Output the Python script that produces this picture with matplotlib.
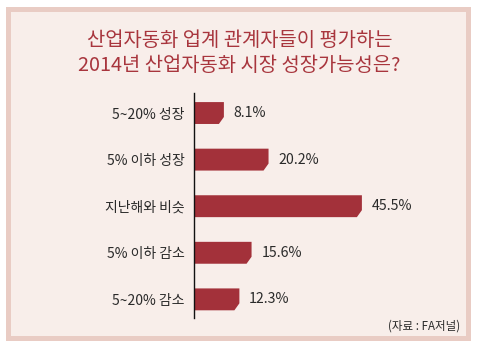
import matplotlib
matplotlib.use("Agg")
import matplotlib.pyplot as plt
from matplotlib.patches import Rectangle, Polygon

plt.rcParams['font.family'] = ['Noto Sans CJK KR', 'DejaVu Sans']
plt.rcParams['font.weight'] = 'light'

categories = ["5~20% 성장", "5% 이하 성장", "지난해와 비슷", "5% 이하 감소", "5~20% 감소"]
values = [8.1, 20.2, 45.5, 15.6, 12.3]
value_labels = ["8.1%", "20.2%", "45.5%", "15.6%", "12.3%"]
title = "산업자동화 업계 관계자들이 평가하는\n2014년 산업자동화 시장 성장가능성은?"
source = "(자료 : FA저널)"

W, H = 479, 349
BAR_COLOR = "#a3313a"
TEXT_COLOR = "#2a2a2a"
TITLE_COLOR = "#a8353d"

fig = plt.figure(figsize=(W / 100, H / 100), dpi=100)
fig.patch.set_facecolor("white")


def px_rect(x0, y0, x1, y1, color):
    # rectangle given in pixel coords measured from the top-left
    fig.patches.append(Rectangle((x0 / W, 1 - y1 / H), (x1 - x0) / W, (y1 - y0) / H,
                                 transform=fig.transFigure, facecolor=color,
                                 edgecolor="none", zorder=-10))


px_rect(6, 7, 471, 341, "#e9ccc4")
px_rect(11, 12, 466, 336, "#f8eeea")

fig.text(0.5, 1 - 53 / H, title, ha="center", va="center", fontsize=14.3,
         color=TITLE_COLOR, linespacing=1.3)

ax_left, ax_top, ax_bottom, ax_right = 194, 93, 318, 460
ax = fig.add_axes([ax_left / W, 1 - ax_bottom / H,
                   (ax_right - ax_left) / W, (ax_bottom - ax_top) / H])
ax.set_facecolor("none")
px_per_unit = 3.69
ax.set_xlim(0, (ax_right - ax_left) / px_per_unit)
ax.set_ylim(4.4, -0.43)
for s in ["top", "right", "bottom"]:
    ax.spines[s].set_visible(False)
ax.spines["left"].set_linewidth(1.0)
ax.spines["left"].set_color("#111111")
ax.set_xticks([])
ax.set_yticks(range(len(categories)))
ax.set_yticklabels(categories, fontsize=10, color=TEXT_COLOR)
ax.tick_params(axis="y", length=0, pad=7)

bar_h = 0.47
chamfer_x = 5 / px_per_unit
chamfer_y = 0.15
for i, v in enumerate(values):
    top, bot = i - bar_h / 2, i + bar_h / 2
    pts = [(0, top), (v, top), (v, bot - chamfer_y), (v - chamfer_x, bot), (0, bot)]
    ax.add_patch(Polygon(pts, closed=True, facecolor=BAR_COLOR,
                         edgecolor="none", zorder=2))
    ax.annotate(value_labels[i], xy=(v, i), xytext=(7, 0), textcoords="offset points",
                ha="left", va="center", fontsize=10.2, color=TEXT_COLOR)

fig.text(460 / W, 1 - 326 / H, source, ha="right", va="center", fontsize=8.3,
         color=TEXT_COLOR)

fig.savefig("out.png", dpi=100)
